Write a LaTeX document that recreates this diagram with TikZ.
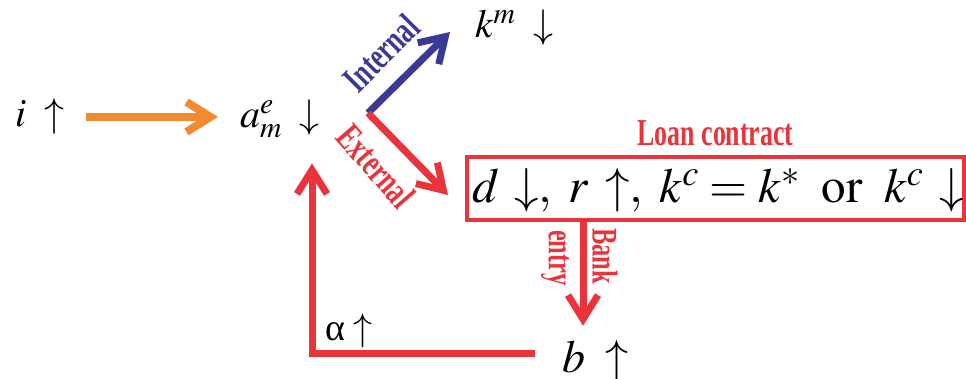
\documentclass[tikz,border=0pt]{standalone}
\usepackage{mathptmx}
\usepackage{fontspec}
\setmainfont{Liberation Serif}
\newfontfamily\tagfont[FakeStretch=0.68]{Liberation Serif Bold}
\usetikzlibrary{arrows.meta, positioning, calc}
\definecolor{flowOrange}{RGB}{242,139,48}
\definecolor{flowBlue}{RGB}{58,58,150}
\definecolor{flowRed}{RGB}{234,52,60}
\newcommand\mv[1]{\mathit{#1}}

\begin{document}
\begin{tikzpicture}[
    x=1pt, y=-1pt,
    var/.style={inner sep=0pt, font=\fontsize{40}{44}\selectfont},
    bigvar/.style={inner sep=0pt, font=\fontsize{49}{53}\selectfont},
    tag/.style={inner sep=0pt, text=flowRed, font=\tagfont\fontsize{38}{40}\selectfont},
    contract/.style={draw=flowRed, line width=3.5pt, minimum width=497pt, minimum height=63pt, inner sep=0pt},
    flow/.style={line width=7pt, -{Straight Barb[length=24pt,width=30pt]}}
]
\useasboundingbox (0,0) rectangle (966,379);

% Variables
\node[var, anchor=base west] (inc) at (15,127) {$\mv{i}\;\uparrow$};
\node[var, anchor=base west] (am) at (240,128) {$\mv{a}_{\mv{m}}^{\mv{e}}\;\downarrow$};
\node[var, anchor=base west] (km) at (475,38) {$\mv{k}^{\mv{m}}\;\downarrow$};
\node[contract] (box) at (715.5,188.5) {};
\node[bigvar, anchor=base west] (terms) at (472,203)
  {$\mv{d}\,\downarrow,\;\mv{r}\,\uparrow,\;\mv{k}^{\mv{c}}\mskip4mu{=}\mskip4mu\mv{k}^{*}\;\;\mathrm{or}\;\;\mv{k}^{\mv{c}}\,\downarrow$};
\node[tag, above=9pt of box] (loan) {Loan contract};
\node[var, font=\fontsize{46}{50}\selectfont, anchor=base west] (b) at (562,372) {$\mv{b}\;\uparrow$};
\node[var, font=\fontsize{38}{42}\selectfont, anchor=base west] (alpha) at (325,340) {α$\;\uparrow$};

% Points of the connectors
\coordinate (fork) at (368,113);
\coordinate (intEnd) at (450,32);
\coordinate (extEnd) at (448,195);
\coordinate (bankTop) at (583,222);
\coordinate (retStart) at (535,353);
\coordinate (retCorner) at (312,353);

% Connectors
\draw[flow, flowOrange, line width=8pt, shorten <=22pt, shorten >=22pt] (inc.east) -- (inc.east -| am.west);
\draw[flow, flowBlue] (fork) -- (intEnd);
\draw[flow, flowRed] (fork) -- (extEnd);
\node[tag, text=flowBlue, rotate=45] (internal) at (381,53) {Internal};
\node[tag, rotate=-49] (external) at (376,166) {External};
\draw[flow, flowRed, shorten >=14pt] (bankTop) -- (bankTop |- b.north);
\node[tag, font=\tagfont\fontsize{36}{38}\selectfont, rotate=-90] (bank) at (605,256) {Bank};
\node[tag, font=\tagfont\fontsize{36}{38}\selectfont, rotate=-90] (entry) at (555,258) {entry};
\draw[flow, flowRed, shorten >=25pt] (retStart) -- (retCorner) -- (retCorner |- am.south);

\end{tikzpicture}
\end{document}
